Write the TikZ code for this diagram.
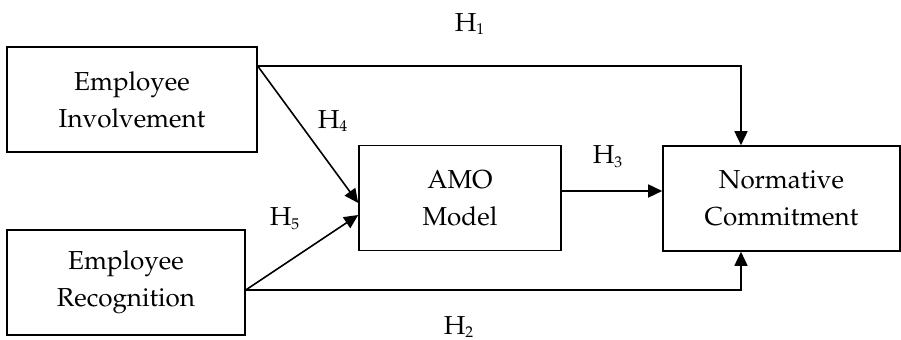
\documentclass[tikz,border=0pt]{standalone}
\usepackage[T1]{fontenc}
\usepackage{mathpazo}
\usepackage{tikz}
\usetikzlibrary{arrows.meta,calc,positioning}

\begin{document}
\begin{tikzpicture}[x=0.5pt,y=-0.5pt,font=\fontsize{13}{18.5}\selectfont,>={Triangle[length=7pt,width=6.5pt]},line width=0.8pt,
  var/.style={draw,align=center,minimum height=52.5pt,inner sep=0pt},
  hyp/.style={inner sep=0pt}]
\useasboundingbox (0,0) rectangle (901,340);
% the constructs
\node[var,minimum width=125pt] (inv) at (132,99.5) {Employee\\Involvement};
\node[var,minimum width=119pt] (rec) at (126,282.5) {Employee\\Recognition};
\node[var,minimum width=101pt] (amo) at (460,198) {AMO\\Model};
\node[var,minimum width=118.5pt] (nc) at (781.5,198.5) {Normative\\Commitment};
% where the paths leave and meet the boxes
\coordinate (invout) at ([yshift=-10pt]inv.north east);
\coordinate (recout) at ([yshift=-3.75pt]rec.east);
\coordinate (amoin4) at ([yshift=-2.5pt]amo.west);
\coordinate (amoin5) at ([yshift=-8.5pt]amo.west);
\coordinate (amoout) at ([yshift=3.5pt]amo.east);
\coordinate (ncin3) at (amoout -| nc.west);
\coordinate (nctop) at ([xshift=-20.25pt]nc.north);
\coordinate (ncbot) at ([xshift=-20.25pt]nc.south);
% the hypotheses
\draw[->] (invout) -| (nctop);
\draw[->] (recout) -| (ncbot);
\draw[->] (invout) -- (amoin4);
\draw[->] (recout) -- (amoin5);
\draw[->] (amoout) -- (ncin3);
\node[hyp] (h1) at (470,24) {H$_{\scriptscriptstyle 1}$};
\node[hyp] (h2) at (459,327) {H$_{\scriptscriptstyle 2}$};
\node[hyp] (h3) at (608,157) {H$_{\scriptscriptstyle 3}$};
\node[hyp] (h4) at (333,121) {H$_{\scriptscriptstyle 4}$};
\node[hyp] (h5) at (285,219) {H$_{\scriptscriptstyle 5}$};
\end{tikzpicture}
\end{document}
